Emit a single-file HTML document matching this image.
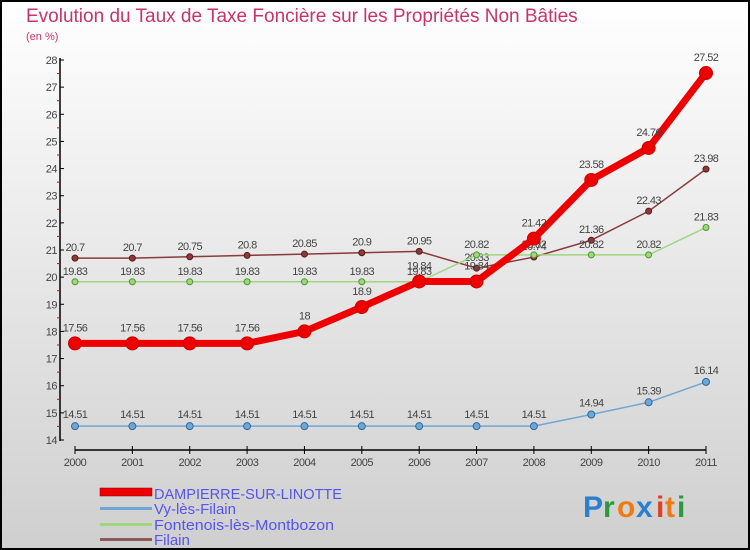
<!DOCTYPE html>
<html><head><meta charset="utf-8"><style>
body{margin:0}
svg{font-family:"Liberation Sans",sans-serif;display:block}
</style></head><body>
<svg width="750" height="550" viewBox="0 0 750 550">
<defs><linearGradient id="bg" x1="0" y1="0" x2="0" y2="1"><stop offset="0" stop-color="#ffffff"/><stop offset="1" stop-color="#cfcfcf"/></linearGradient></defs>
<rect x="1" y="1" width="748" height="548" fill="url(#bg)" stroke="#000" stroke-width="2"/>
<text x="26" y="22" font-size="19" fill="#c8336a">Evolution du Taux de Taxe Foncière sur les Propriétés Non Bâties</text>
<text x="26" y="40" font-size="11" fill="#c8336a">(en %)</text>
<g id="axes"></g>
<g id="series"></g>
<g>
<rect x="100" y="488" width="52" height="8" fill="#e00" stroke="#800" stroke-width="0.5"/>
<text x="154" y="499" font-size="15" fill="#5555ee" textLength="188" lengthAdjust="spacingAndGlyphs">DAMPIERRE-SUR-LINOTTE</text>
<rect x="100" y="507" width="52" height="3" fill="#6fa7d4"/>
<text x="154" y="514" font-size="15" fill="#5555ee">Vy-lès-Filain</text>
<rect x="100" y="523" width="52" height="3" fill="#9fd67f"/>
<text x="154" y="530" font-size="15" fill="#5555ee" textLength="180" lengthAdjust="spacingAndGlyphs">Fontenois-lès-Montbozon</text>
<rect x="100" y="538" width="52" height="3" fill="#8b5a5a"/>
<text x="154" y="545" font-size="15" fill="#5555ee">Filain</text>
</g>
<g font-size="30" font-weight="bold">
<text x="583" y="517" fill="#2a7fd0">P</text><text x="603" y="517" fill="#2a9a3a">r</text><text x="617" y="517" fill="#f07a10">o</text><text x="636" y="517" fill="#2a7fd0">x</text><text x="656" y="517" fill="#e04020">i</text><text x="665" y="517" fill="#f07a10">t</text><text x="677" y="517" fill="#2a9a3a">i</text>
</g>
</svg>
<script>
const years=["2000","2001","2002","2003","2004","2005","2006","2007","2008","2009","2010","2011"];
const yTicks=[14,15,16,17,18,19,20,21,22,23,24,25,26,27,28];
const dampierre=[17.56,17.56,17.56,17.56,18,18.9,19.84,19.84,21.42,23.58,24.76,27.52];
const vy=[14.51,14.51,14.51,14.51,14.51,14.51,14.51,14.51,14.51,14.94,15.39,16.14];
const fontenois=[19.83,19.83,19.83,19.83,19.83,19.83,19.83,20.82,20.82,20.82,20.82,21.83];
const filain=[20.7,20.7,20.75,20.8,20.85,20.9,20.95,20.33,20.74,21.36,22.43,23.98];
const NS="http://www.w3.org/2000/svg";
const xS=i=>75+i*(706-75)/11;
const yS=v=>440-(v-14)*(380/14);
function mk(p,t,a){const e=document.createElementNS(NS,t);for(const k in a)e.setAttribute(k,a[k]);p.appendChild(e);return e;}
const ax=document.getElementById('axes');
let l=mk(ax,'line',{x1:60,y1:58,x2:60,y2:441,stroke:'#000','stroke-width':1.5});

l=mk(ax,'line',{x1:75,y1:450,x2:706,y2:450,stroke:'#000','stroke-width':1.5});

yTicks.forEach((v,i)=>{const y=yS(v);mk(ax,'line',{x1:60,y1:y,x2:64,y2:y,stroke:'#000'});
 if(i<yTicks.length-1)mk(ax,'line',{x1:57,y1:y-190/14,x2:60,y2:y-190/14,stroke:'#e00'});
 const t=mk(ax,'text',{x:57,y:y+4,'font-size':11,fill:'#444','text-anchor':'end','letter-spacing':'-0.5'});t.textContent=v;
 });
years.forEach((yr,i)=>{const x=xS(i);mk(ax,'line',{x1:x,y1:446,x2:x,y2:454,stroke:'#000'});
 const t=mk(ax,'text',{x:x,y:466,'font-size':11,fill:'#444','text-anchor':'middle','letter-spacing':'-0.5'});t.textContent=yr;
 });
const sg=document.getElementById('series');
function series(name,vals,col,dark,w,r,lblOff){
 const g=mk(sg,'g',{});
 const p=mk(g,'polyline',{points:vals.map((v,i)=>xS(i)+','+yS(v)).join(' '),fill:'none',stroke:col,'stroke-width':w,'stroke-linejoin':'round'});
 
 vals.forEach((v,i)=>{const c=mk(g,'circle',{cx:xS(i),cy:yS(v),r:r,fill:col,stroke:dark,'stroke-width':1});
  
  const t=mk(g,'text',{x:xS(i),y:yS(v)-lblOff,'font-size':11,fill:'#444','text-anchor':'middle','letter-spacing':'-0.6'});t.textContent=v;
  });
}
series('filain',filain,'#8b3a3a','#5a1a1a',1.5,3,7);
series('fontenois',fontenois,'#9fd67f','#4a9a2a',1.5,3,7);
series('vy',vy,'#6fa7d4','#2a6aa0',1.5,3.5,8);
series('dampierre',dampierre,'#ee0000','#cc0000',7,6.5,12);
</script>
</body></html>
